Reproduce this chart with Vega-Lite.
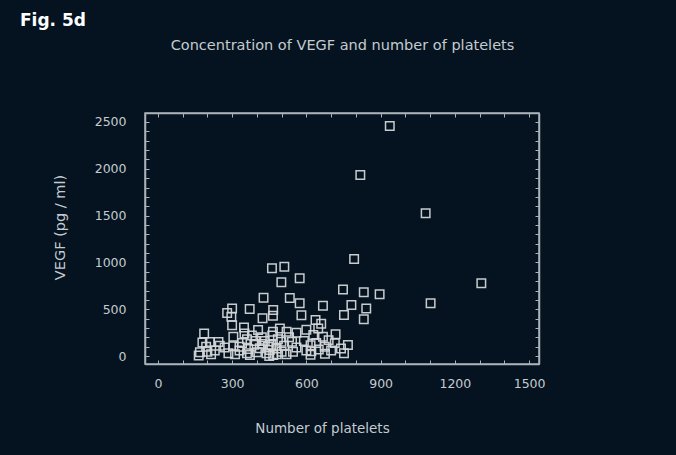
{
  "$schema": "https://vega.github.io/schema/vega-lite/v6.json",
  "width": 394,
  "height": 251,
  "autosize": {"type": "none"},
  "padding": {"left": 145, "top": 113, "right": 137, "bottom": 91},
  "background": "#04131f",
  "config": {
    "view": {"stroke": "#aab3ba", "strokeWidth": 1.5, "fill": "#04131f"},
    "font": "DejaVu Sans",
    "axis": {
      "domainColor": "#aab3ba",
      "domainWidth": 1.5,
      "tickColor": "#aab3ba",
      "tickWidth": 1,
      "grid": false,
      "labelColor": "#c5cbd0",
      "labelFont": "DejaVu Sans",
      "labelFontSize": 12.5,
      "titleColor": "#c5cbd0",
      "titleFont": "DejaVu Sans",
      "titleFontSize": 13.5,
      "titleFontWeight": "normal"
    }
  },
  "title": {
    "text": "Fig. 5d",
    "anchor": "start",
    "frame": "group",
    "dx": -125,
    "dy": -4,
    "font": "DejaVu Sans",
    "fontSize": 17,
    "fontWeight": "bold",
    "color": "#ffffff"
  },
  "data": {
    "values": [
      {"platelets": 937, "vegf": 2457},
      {"platelets": 818, "vegf": 1934},
      {"platelets": 1082, "vegf": 1525},
      {"platelets": 793, "vegf": 1036},
      {"platelets": 1307, "vegf": 777},
      {"platelets": 1102, "vegf": 563},
      {"platelets": 896, "vegf": 660},
      {"platelets": 461, "vegf": 937},
      {"platelets": 511, "vegf": 954},
      {"platelets": 499, "vegf": 787},
      {"platelets": 573, "vegf": 830},
      {"platelets": 427, "vegf": 622},
      {"platelets": 533, "vegf": 620},
      {"platelets": 748, "vegf": 712},
      {"platelets": 832, "vegf": 682},
      {"platelets": 842, "vegf": 509},
      {"platelets": 832, "vegf": 392},
      {"platelets": 782, "vegf": 545},
      {"platelets": 752, "vegf": 438},
      {"platelets": 667, "vegf": 536},
      {"platelets": 573, "vegf": 563},
      {"platelets": 580, "vegf": 435},
      {"platelets": 300, "vegf": 509},
      {"platelets": 371, "vegf": 502},
      {"platelets": 423, "vegf": 403},
      {"platelets": 280, "vegf": 460},
      {"platelets": 297, "vegf": 420},
      {"platelets": 466, "vegf": 491},
      {"platelets": 465, "vegf": 430},
      {"platelets": 300, "vegf": 330},
      {"platelets": 348, "vegf": 305},
      {"platelets": 405, "vegf": 278},
      {"platelets": 187, "vegf": 242},
      {"platelets": 180, "vegf": 145},
      {"platelets": 210, "vegf": 150},
      {"platelets": 245, "vegf": 150},
      {"platelets": 170, "vegf": 40},
      {"platelets": 200, "vegf": 45},
      {"platelets": 165, "vegf": 5},
      {"platelets": 305, "vegf": 206},
      {"platelets": 360, "vegf": 180},
      {"platelets": 305, "vegf": 105},
      {"platelets": 312, "vegf": 18},
      {"platelets": 365, "vegf": 75},
      {"platelets": 372, "vegf": 12},
      {"platelets": 432, "vegf": 160},
      {"platelets": 462, "vegf": 220},
      {"platelets": 412, "vegf": 82},
      {"platelets": 452, "vegf": 64},
      {"platelets": 439, "vegf": 29},
      {"platelets": 466, "vegf": 11},
      {"platelets": 637, "vegf": 385},
      {"platelets": 660, "vegf": 345},
      {"platelets": 648, "vegf": 295},
      {"platelets": 718, "vegf": 232},
      {"platelets": 667, "vegf": 206},
      {"platelets": 628, "vegf": 225},
      {"platelets": 520, "vegf": 260},
      {"platelets": 465, "vegf": 260},
      {"platelets": 493, "vegf": 295},
      {"platelets": 542, "vegf": 153},
      {"platelets": 499, "vegf": 153},
      {"platelets": 500, "vegf": 46},
      {"platelets": 546, "vegf": 46},
      {"platelets": 617, "vegf": 115},
      {"platelets": 617, "vegf": 15},
      {"platelets": 620, "vegf": 50},
      {"platelets": 675, "vegf": 25},
      {"platelets": 674, "vegf": 99},
      {"platelets": 768, "vegf": 118},
      {"platelets": 752, "vegf": 29},
      {"platelets": 715, "vegf": 138},
      {"platelets": 459, "vegf": 118},
      {"platelets": 330, "vegf": 60},
      {"platelets": 340, "vegf": 140},
      {"platelets": 390, "vegf": 120},
      {"platelets": 400, "vegf": 40},
      {"platelets": 420, "vegf": 200},
      {"platelets": 445, "vegf": 100},
      {"platelets": 480, "vegf": 80},
      {"platelets": 485, "vegf": 180},
      {"platelets": 510, "vegf": 110},
      {"platelets": 520, "vegf": 20},
      {"platelets": 530, "vegf": 200},
      {"platelets": 350, "vegf": 240},
      {"platelets": 380, "vegf": 220},
      {"platelets": 395, "vegf": 160},
      {"platelets": 270, "vegf": 90},
      {"platelets": 285, "vegf": 30},
      {"platelets": 230, "vegf": 60},
      {"platelets": 250, "vegf": 110},
      {"platelets": 215, "vegf": 20},
      {"platelets": 195, "vegf": 100},
      {"platelets": 560, "vegf": 90},
      {"platelets": 590, "vegf": 160},
      {"platelets": 600, "vegf": 60},
      {"platelets": 640, "vegf": 140},
      {"platelets": 650, "vegf": 70},
      {"platelets": 700, "vegf": 60},
      {"platelets": 740, "vegf": 80},
      {"platelets": 690, "vegf": 170},
      {"platelets": 560, "vegf": 250},
      {"platelets": 600, "vegf": 280},
      {"platelets": 420, "vegf": 130},
      {"platelets": 450, "vegf": 0},
      {"platelets": 360, "vegf": 30},
      {"platelets": 330, "vegf": 100},
      {"platelets": 480, "vegf": 20}
    ]
  },
  "layer": [
    {
      "mark": {"type": "point", "shape": "square", "filled": false, "size": 72, "stroke": "#d4d6d8", "strokeWidth": 1.5, "opacity": 0.95},
      "encoding": {
        "x": {
          "field": "platelets", "type": "quantitative",
          "scale": {"domain": [-52, 1540], "nice": false, "zero": false},
          "axis": {
            "orient": "bottom",
            "title": "Number of platelets",
            "format": "d",
            "values": [0, 100, 200, 300, 400, 500, 600, 700, 800, 900, 1000, 1100, 1200, 1300, 1400, 1500],
            "labelExpr": "datum.value % 300 === 0 ? datum.label : ''",
            "tickSize": -4,
            "labelPadding": 17,
            "titlePadding": 32,
            "titleX": 177,
            "labelFlush": false
          }
        },
        "y": {
          "field": "vegf", "type": "quantitative",
          "scale": {"domain": [-85, 2596], "nice": false, "zero": false},
          "axis": {
            "orient": "left",
            "title": "VEGF (pg / ml)",
            "titleFontSize": 14.5,
            "format": "d",
            "values": [0, 100, 200, 300, 400, 500, 600, 700, 800, 900, 1000, 1100, 1200, 1300, 1400, 1500, 1600, 1700, 1800, 1900, 2000, 2100, 2200, 2300, 2400, 2500],
            "labelExpr": "datum.value % 500 === 0 ? datum.label : ''",
            "tickSize": -4,
            "labelPadding": 23,
            "titlePadding": 27,
            "titleY": 114,
            "labelFlush": false
          }
        }
      }
    },
    {
      "mark": {"type": "point", "opacity": 0},
      "encoding": {
        "x": {
          "field": "platelets", "type": "quantitative",
          "axis": {
            "orient": "top",
            "title": "Concentration of VEGF and number of platelets",
            "titleFontSize": 14.5,
            "values": [0, 100, 200, 300, 400, 500, 600, 700, 800, 900, 1000, 1100, 1200, 1300, 1400, 1500],
            "labels": false,
            "tickSize": -4,
            "titlePadding": 60
          }
        },
        "y": {
          "field": "vegf", "type": "quantitative",
          "axis": {
            "orient": "right",
            "title": null,
            "values": [0, 100, 200, 300, 400, 500, 600, 700, 800, 900, 1000, 1100, 1200, 1300, 1400, 1500, 1600, 1700, 1800, 1900, 2000, 2100, 2200, 2300, 2400, 2500],
            "labels": false,
            "tickSize": -4
          }
        }
      }
    }
  ],
  "resolve": {"axis": {"x": "independent", "y": "independent"}}
}
